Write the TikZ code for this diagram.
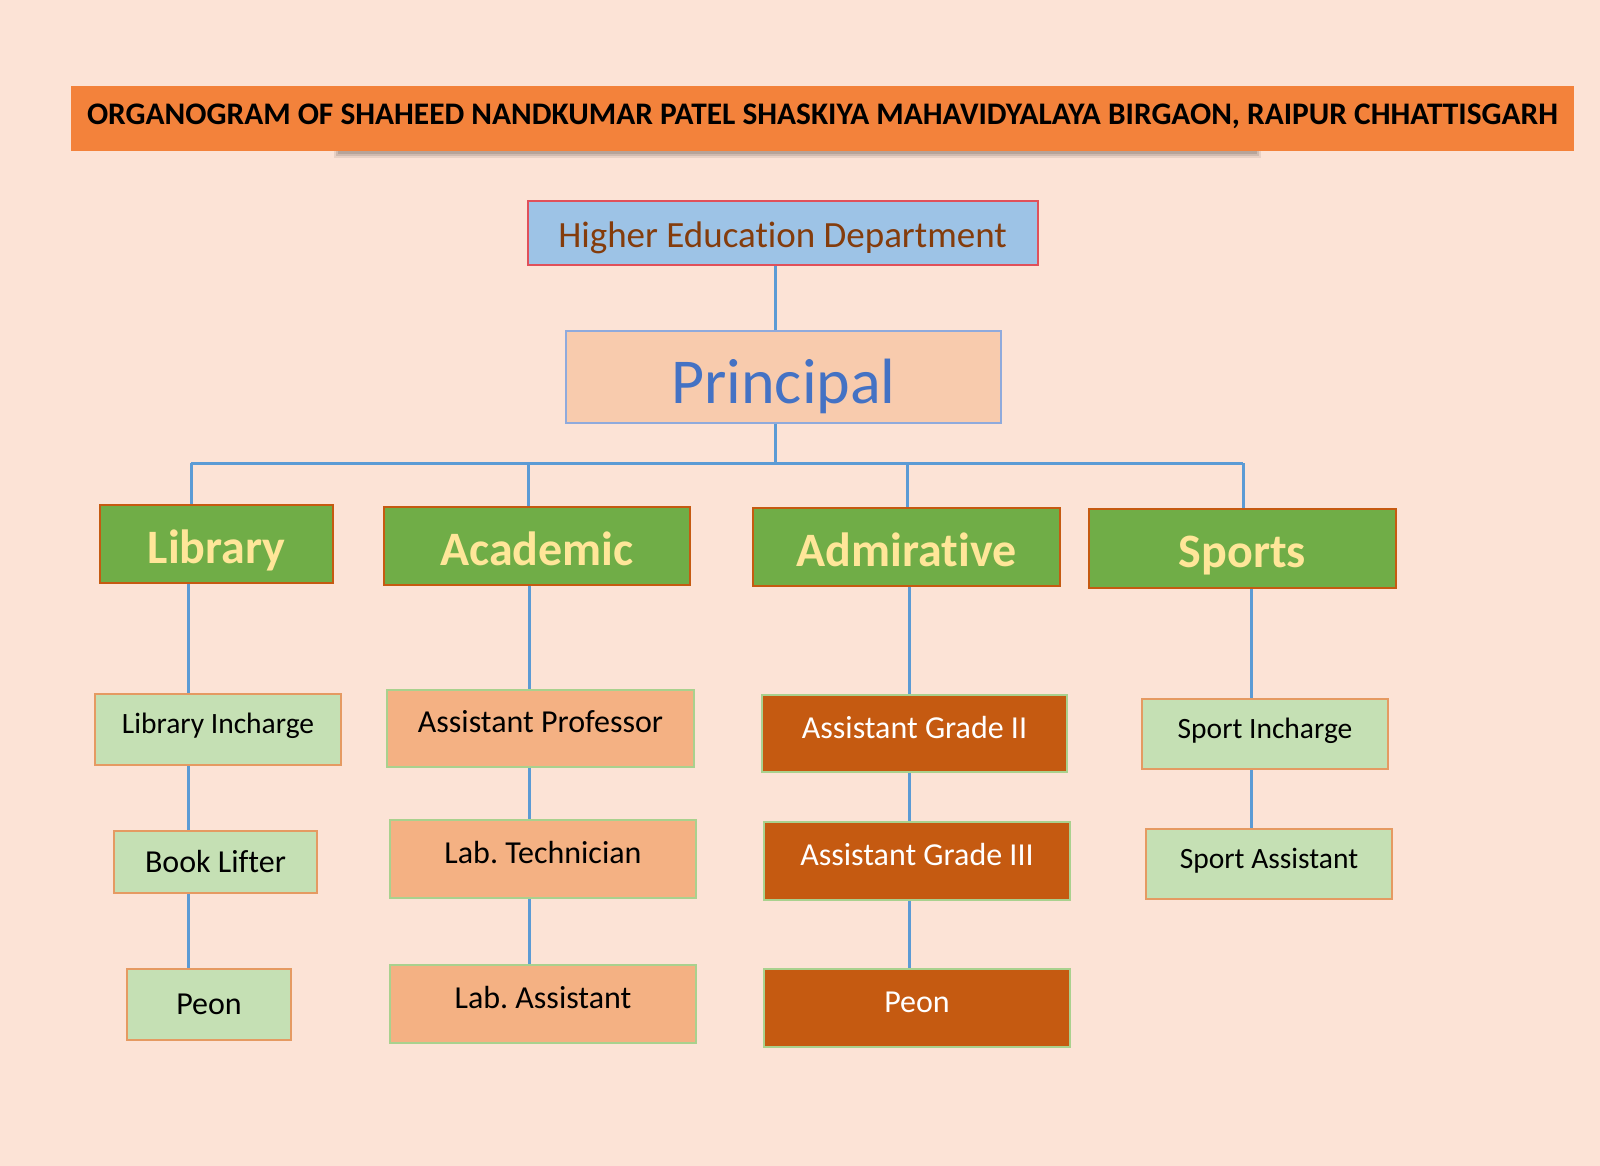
\documentclass[tikz,border=0pt]{standalone}
\usepackage{fontspec}
\setmainfont{Carlito}[Ligatures=NoCommon]
\usepackage{graphicx}
\frenchspacing
\definecolor{bg}{HTML}{FCE3D6}
\definecolor{titleor}{HTML}{F3823B}
\definecolor{hedfill}{HTML}{9DC3E6}
\definecolor{hedline}{HTML}{E0505A}
\definecolor{hedtext}{HTML}{843C0C}
\definecolor{prfill}{HTML}{F8CBAD}
\definecolor{prline}{HTML}{8FAADC}
\definecolor{prtext}{HTML}{4472C4}
\definecolor{grn}{HTML}{70AD47}
\definecolor{grnline}{HTML}{C55A11}
\definecolor{yel}{HTML}{FFE699}
\definecolor{lgrn}{HTML}{C5E0B4}
\definecolor{lgrnline}{HTML}{E59A62}
\definecolor{orf}{HTML}{F4B183}
\definecolor{orline}{HTML}{A9D18E}
\definecolor{brn}{HTML}{C55A11}
\definecolor{conncol}{HTML}{5B9BD5}
\begin{document}
\begin{tikzpicture}[x=1pt,y=-1pt,
  box/.style={draw, rectangle, line width=2pt, inner sep=0pt, align=center},
  titlebar/.style={rectangle, fill=titleor, inner sep=0pt, minimum width=1503pt, minimum height=65pt, text=black, font=\fontsize{32}{32}\selectfont\bfseries, text height=22pt, text depth=10pt},
  hedbox/.style={box, fill=hedfill, draw=hedline, text=hedtext, font=\fontsize{37}{37}\selectfont, text height=31pt, text depth=1.2pt},
  prbox/.style={box, fill=prfill, draw=prline, text=prtext, font=\fontsize{64}{64}\selectfont, text height=57.6pt, text depth=4.5pt},
  lvltwo/.style={box, fill=grn, draw=grnline, text=yel, font=\fontsize{48}{48}\selectfont\bfseries, text height=40pt, text depth=1.1pt},
  lgbox/.style={box, fill=lgrn, draw=lgrnline, text=black, font=\fontsize{32}{32}\selectfont, text height=24pt, text depth=3.4pt},
  lgup/.style={lgbox, font=\fontsize{29.5}{29.5}\selectfont, text height=22.1pt, text depth=13.3pt},
  orbox/.style={box, fill=orf, draw=orline, text=black, font=\fontsize{32}{32}\selectfont, text height=24pt, text depth=15.4pt},
  brbox/.style={box, fill=brn, draw=orline, text=white, font=\fontsize{32}{32}\selectfont, text height=24pt, text depth=15.4pt},
  conn/.style={draw=conncol, line width=3pt}
]
\fill[bg] (0,0) rectangle (1600,1166);
\useasboundingbox (0,0) rectangle (1600,1166);

% title shadow
\fill[black, opacity=0.08] (334,148) rectangle (1261,158);
\fill[black, opacity=0.10] (336,148) rectangle (1259,156);
\fill[black, opacity=0.12] (338,148) rectangle (1257,154);

\node[titlebar] (title) at (822.5,118.5) {\resizebox{1471pt}{!}{ORGANOGRAM OF SHAHEED NANDKUMAR PATEL SHASKIYA MAHAVIDYALAYA BIRGAON, RAIPUR CHHATTISGARH}};

\node[hedbox, minimum width=510pt, minimum height=64pt] (hed) at (782.6,233) {Higher Education Department};
\node[prbox, minimum width=435pt, minimum height=91.5pt] (prin) at (783.5,376.8) {Principal};

\node[lvltwo, minimum width=233pt, minimum height=78pt] (lib) at (216.5,544) {Library};
\node[lvltwo, minimum width=306pt, minimum height=78pt] (acad) at (536.9,546) {Academic};
\node[lvltwo, minimum width=307pt, minimum height=78pt] (adm) at (906.5,547) {Admirative};
\node[lvltwo, minimum width=307pt, minimum height=79pt] (spo) at (1242.5,548.5) {Sports};

\node[lgup, minimum width=246pt, minimum height=71pt] (libinch) at (218,729.5) {Library Incharge};
\node[lgbox, minimum width=203pt, minimum height=62pt] (book) at (215.5,862) {Book Lifter};
\node[lgbox, minimum width=163.5pt, minimum height=71pt] (peonl) at (209,1004.5) {Peon};

\node[orbox, minimum width=307pt, minimum height=77pt] (aprof) at (540.5,728.5) {Assistant Professor};
\node[orbox, minimum width=306pt, minimum height=78pt] (labt) at (543,859) {Lab. Technician};
\node[orbox, minimum width=306pt, minimum height=78pt] (laba) at (543,1004) {Lab. Assistant};

\node[brbox, minimum width=305pt, minimum height=77.5pt] (ag2) at (914.5,733.7) {Assistant Grade II};
\node[brbox, minimum width=306pt, minimum height=77.5pt] (ag3) at (917,861) {Assistant Grade III};
\node[brbox, minimum width=306pt, minimum height=78pt] (peona) at (917,1008) {Peon};

\node[lgup, minimum width=246pt, minimum height=70pt] (spinch) at (1265,734) {Sport Incharge};
\node[lgup, minimum width=246pt, minimum height=70pt] (spasst) at (1269,863.8) {Sport Assistant};

% connector guide coordinates
\coordinate (xc) at (775.5,463);
\coordinate (busL) at (191,463);
\coordinate (busR) at (1243,463);
\coordinate (xa) at (528.6,463);
\coordinate (xm) at (907,463);
\coordinate (cl) at (188,0);
\coordinate (ca) at (529.6,0);
\coordinate (cm) at (909,0);
\coordinate (cs) at (1251,0);

\draw[conn] (hed.south -| xc) -- (prin.north -| xc);
\draw[conn] (prin.south -| xc) -- (xc);
\draw[conn] (busL) -- (busR);
\draw[conn] (busL) -- (lib.north -| busL);
\draw[conn] (xa) -- (acad.north -| xa);
\draw[conn] (xm) -- (adm.north -| xm);
\draw[conn] (busR) -- (spo.north -| busR);

\draw[conn] (lib.south -| cl) -- (libinch.north -| cl);
\draw[conn] (libinch.south -| cl) -- (book.north -| cl);
\draw[conn] (book.south -| cl) -- (peonl.north -| cl);

\draw[conn] (acad.south -| ca) -- (aprof.north -| ca);
\draw[conn] (aprof.south -| ca) -- (labt.north -| ca);
\draw[conn] (labt.south -| ca) -- (laba.north -| ca);

\draw[conn] (adm.south -| cm) -- (ag2.north -| cm);
\draw[conn] (ag2.south -| cm) -- (ag3.north -| cm);
\draw[conn] (ag3.south -| cm) -- (peona.north -| cm);

\draw[conn] (spo.south -| cs) -- (spinch.north -| cs);
\draw[conn] (spinch.south -| cs) -- (spasst.north -| cs);
\end{tikzpicture}
\end{document}
